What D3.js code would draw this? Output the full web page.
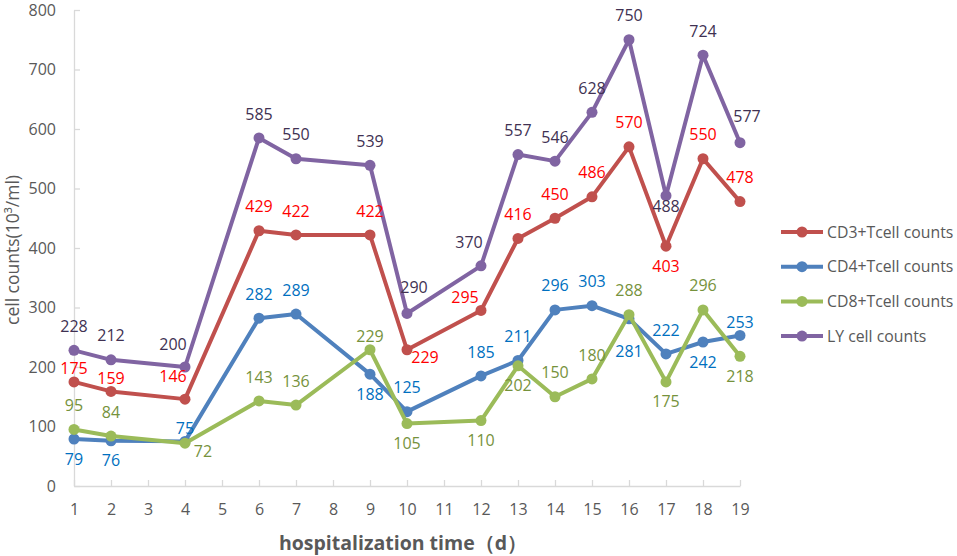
<!DOCTYPE html>
<html>
<head>
<meta charset="utf-8">
<script src="https://cdn.jsdelivr.net/npm/d3@7"></script>
<style>
  body { margin: 0; background: #fff; }
  text { font-family: "Open Sans", "Noto Sans", sans-serif; }
</style>
</head>
<body>
<div id="chart"></div>
<script>
// hospitalization days that have measurements
const days = [1, 2, 4, 6, 7, 9, 10, 12, 13, 14, 15, 16, 17, 18, 19];

// cell counts (10^3/ml) per series
const cd3 = [175, 159, 146, 429, 422, 422, 229, 295, 416, 450, 486, 570, 403, 550, 478];
const cd4 = [79, 76, 75, 282, 289, 188, 125, 185, 211, 296, 303, 281, 222, 242, 253];
const cd8 = [95, 84, 72, 143, 136, 229, 105, 110, 202, 150, 180, 288, 175, 296, 218];
const ly = [228, 212, 200, 585, 550, 539, 290, 370, 557, 546, 628, 750, 488, 724, 577];

const seriesNames = ["CD3+Tcell counts", "CD4+Tcell counts", "CD8+Tcell counts", "LY cell counts"];
const xTicks = d3.range(1, 20);
const yTicks = [0, 100, 200, 300, 400, 500, 600, 700, 800];

// where each data label sits relative to its point
const cd3Place = ["tn", "tn", "tl", "t", "t", "t", "br", "l", "t", "t", "t", "t", "b", "t", "t"];
const cd4Place = ["b", "b", "tn", "t", "t", "b", "t", "t", "t", "t", "t", "bf", "t", "b", "tn"];
const cd8Place = ["t", "t", "br", "t", "t", "tn", "b", "b", "b", "t", "t", "t", "b", "t", "b"];
const lyPlace = ["t", "t", "tl", "t", "t", "t", "tr", "tl", "t", "t", "t", "t", "bn", "t", "tr"];

const offsets = {
    t: [0, -24], tn: [0, -13], tl: [-12, -23], tr: [7, -26], l: [-16, -13],
    b: [0, 20], bn: [0, 11], bf: [0, 33], br: [18, 8]
};

const series = [
    {name: seriesNames[0], values: cd3, place: cd3Place, line: "#c0504d", label: "#ff0000"},
    {name: seriesNames[1], values: cd4, place: cd4Place, line: "#4f81bd", label: "#0070c0"},
    {name: seriesNames[2], values: cd8, place: cd8Place, line: "#9bbb59", label: "#76923c"},
    {name: seriesNames[3], values: ly, place: lyPlace, line: "#8064a2", label: "#403152"}
];

const W = 957, H = 556;
const margin = {top: 10, right: 217, bottom: 70, left: 74};
const width = W - margin.left - margin.right;
const height = H - margin.top - margin.bottom;

const svg = d3.select("#chart").append("svg")
    .attr("width", W)
    .attr("height", H);

const g = svg.append("g")
    .attr("transform", "translate(" + margin.left + "," + margin.top + ")");

const x = d3.scaleLinear().domain([1, 19]).range([0, width]);
const y = d3.scaleLinear().domain([0, 800]).range([height, 0]);

// x axis
const xAxis = g.append("g")
    .attr("transform", "translate(0," + height + ")")
    .call(d3.axisBottom(x).tickValues(xTicks).tickSizeInner(-6).tickSizeOuter(0).tickPadding(18));
xAxis.select(".domain").attr("stroke", "#d9d9d9").attr("stroke-width", 1.3);
xAxis.selectAll(".tick line").attr("stroke", "#d9d9d9").attr("stroke-width", 1.3);
xAxis.selectAll("text").attr("fill", "#595959").style("font-size", "16px");

// y axis
const yAxis = g.append("g")
    .call(d3.axisLeft(y).tickValues(yTicks).tickSizeInner(-6).tickSizeOuter(0).tickPadding(18));
yAxis.select(".domain").attr("stroke", "#d9d9d9").attr("stroke-width", 1.3);
yAxis.selectAll(".tick line").attr("stroke", "#d9d9d9").attr("stroke-width", 1.3);
yAxis.selectAll("text").attr("fill", "#595959").style("font-size", "16px");

// lines, markers and labels
const line = d3.line()
    .x((d, i) => x(days[i]))
    .y(d => y(d));

series.forEach(s => {
    g.append("path")
        .datum(s.values)
        .attr("fill", "none")
        .attr("stroke", s.line)
        .attr("stroke-width", 4)
        .attr("stroke-linejoin", "round")
        .attr("d", line);

    g.selectAll(null)
        .data(s.values)
        .join("circle")
        .attr("cx", (d, i) => x(days[i]))
        .attr("cy", d => y(d))
        .attr("r", 5.5)
        .attr("fill", s.line);
});

series.forEach(s => {
    g.selectAll(null)
        .data(s.values)
        .join("text")
        .attr("x", (d, i) => x(days[i]) + offsets[s.place[i]][0])
        .attr("y", (d, i) => y(d) + offsets[s.place[i]][1])
        .attr("dy", "0.35em")
        .attr("text-anchor", "middle")
        .attr("fill", s.label)
        .style("font-size", "16px")
        .text(d => d);
});

// axis titles
svg.append("text")
    .attr("x", 403)
    .attr("y", 550)
    .attr("text-anchor", "middle")
    .attr("fill", "#595959")
    .style("font-size", "19.5px")
    .style("font-weight", "bold")
    .text("hospitalization time（d）");

svg.append("text")
    .attr("transform", "translate(19,250) rotate(-90)")
    .attr("text-anchor", "middle")
    .attr("fill", "#595959")
    .style("font-size", "17.5px")
    .text("cell counts(10³/ml)");

// legend
const legend = svg.append("g")
    .attr("transform", "translate(781,232)");

const items = legend.selectAll("g")
    .data(series)
    .join("g")
    .attr("transform", (d, i) => "translate(0," + (i * 34.7) + ")");

items.append("line")
    .attr("x1", 0).attr("x2", 42)
    .attr("stroke", d => d.line)
    .attr("stroke-width", 4);

items.append("circle")
    .attr("cx", 21)
    .attr("r", 5.5)
    .attr("fill", d => d.line);

items.append("text")
    .attr("x", 46)
    .attr("dy", "0.35em")
    .attr("fill", "#595959")
    .style("font-size", "15.8px")
    .text(d => d.name);
</script>
</body>
</html>
